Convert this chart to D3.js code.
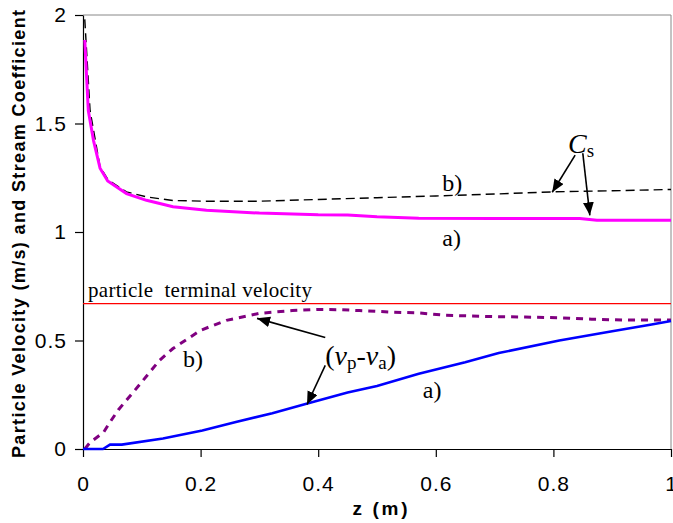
<!doctype html>
<html lang="en">
<head>
<meta charset="UTF-8" />
<title>Particle velocity and stream coefficient</title>
<script src="https://d3js.org/d3.v7.min.js"></script>
<style>
    body, html { margin: 0; padding: 0; background: #fff; }
    svg { display: block; }
    .tick text { font-family: Arial, "Liberation Sans", sans-serif; font-size: 21px; letter-spacing: 1px; fill: #000; }
    .serif { font-family: "Times New Roman", "Liberation Serif", serif; fill: #000; }
</style>
</head>
<body>
<svg id="chart" width="673" height="523"></svg>
<script>
    // data
    const xTicks = [0, 0.2, 0.4, 0.6, 0.8, 1];
    const yTicks = [0, 0.5, 1, 1.5, 2];

    // Cs a) (magenta solid)
    const csA_z = [0.003, 0.009, 0.018, 0.029, 0.042, 0.074, 0.108, 0.153, 0.21, 0.3, 0.4, 0.45, 0.5, 0.571, 0.7, 0.845, 0.874, 1.0];
    const csA_v = [1.885, 1.56, 1.42, 1.294, 1.235, 1.177, 1.146, 1.116, 1.100, 1.087, 1.079, 1.078, 1.07, 1.063, 1.062, 1.062, 1.054, 1.054];

    // Cs b) (black dashed)
    const csB_z = [0.003, 0.012, 0.029, 0.043, 0.074, 0.108, 0.153, 0.21, 0.3, 0.4, 0.5, 0.6, 0.7, 0.8, 0.9, 1.0];
    const csB_v = [1.98, 1.56, 1.30, 1.239, 1.185, 1.162, 1.145, 1.142, 1.142, 1.15, 1.158, 1.166, 1.175, 1.185, 1.19, 1.196];

    // (vp-va) b) (purple dashed)
    const vB_z = [0.003, 0.012, 0.035, 0.046, 0.06, 0.088, 0.13, 0.153, 0.2, 0.244, 0.3, 0.356, 0.4, 0.436, 0.47, 0.525, 0.571, 0.617, 0.7, 0.752, 0.81, 0.865, 0.92, 1.0];
    const vB_v = [0.0, 0.03, 0.077, 0.124, 0.18, 0.27, 0.408, 0.463, 0.547, 0.593, 0.625, 0.638, 0.643, 0.642, 0.638, 0.631, 0.627, 0.616, 0.61, 0.608, 0.605, 0.598, 0.594, 0.595];

    // (vp-va) a) (blue solid)
    const vA_z = [0, 0.034, 0.046, 0.066, 0.136, 0.203, 0.26, 0.322, 0.38, 0.45, 0.5, 0.571, 0.65, 0.707, 0.81, 0.9, 0.967, 1.0];
    const vA_v = [0, 0, 0.02, 0.02, 0.048, 0.085, 0.124, 0.165, 0.208, 0.26, 0.29, 0.347, 0.40, 0.442, 0.50, 0.543, 0.574, 0.59];

    const terminalVelocity = 0.67;

    // annotation arrows [fromZ, fromV, toZ, toV]
    const arrows = [
        [0.837, 1.354, 0.798, 1.183],
        [0.850, 1.363, 0.862, 1.077],
        [0.412, 0.514, 0.296, 0.602],
        [0.412, 0.385, 0.381, 0.205]
    ];

    const svg = d3.select("#chart");
    const margin = { top: 15, right: 2, bottom: 74, left: 83 };
    const width = 673 - margin.left - margin.right;
    const height = 523 - margin.top - margin.bottom;

    const x = d3.scaleLinear().domain([0, 1]).range([margin.left, margin.left + width]);
    const y = d3.scaleLinear().domain([0, 2]).range([margin.top + height, margin.top]);

    // frame (top and right)
    svg.append("path")
        .attr("d", `M${x(0)},${y(2)}H${x(1)}V${y(0)}`)
        .attr("fill", "none")
        .attr("stroke", "#888")
        .attr("stroke-width", 1);

    const fmt = d => String(d);

    const gx = svg.append("g")
        .attr("transform", `translate(0,${y(0)})`)
        .call(d3.axisBottom(x).tickValues(xTicks).tickFormat(fmt).tickSize(8).tickPadding(19).tickSizeOuter(0));
    const gy = svg.append("g")
        .attr("transform", `translate(${x(0)},0)`)
        .call(d3.axisLeft(y).tickValues(yTicks).tickFormat(fmt).tickSize(8).tickPadding(8).tickSizeOuter(0));
    [gx, gy].forEach(g => {
        g.select(".domain").attr("stroke", "#000").attr("stroke-width", 1.2);
        g.selectAll(".tick line").attr("stroke", "#000").attr("stroke-width", 1.2);
    });

    // axis titles
    svg.append("text")
        .attr("x", 380).attr("y", 515)
        .attr("text-anchor", "middle")
        .attr("font-family", "Arial, 'Liberation Sans', sans-serif")
        .attr("font-weight", "bold")
        .attr("font-size", 19)
        .attr("textLength", 55)
        .attr("lengthAdjust", "spacing")
        .text("z (m)");
    svg.append("text")
        .attr("transform", "translate(25,234) rotate(-90)")
        .attr("text-anchor", "middle")
        .attr("font-family", "Arial, 'Liberation Sans', sans-serif")
        .attr("font-weight", "bold")
        .attr("font-size", 18)
        .attr("textLength", 448)
        .attr("lengthAdjust", "spacing")
        .text("Particle Velocity (m/s) and Stream Coefficient");

    // terminal velocity line
    svg.append("line")
        .attr("x1", x(0)).attr("x2", x(1))
        .attr("y1", y(terminalVelocity)).attr("y2", y(terminalVelocity))
        .attr("stroke", "#ff0000").attr("stroke-width", 1.2);
    svg.append("text")
        .attr("class", "serif")
        .attr("x", x(0.0085)).attr("y", y(0.699))
        .attr("font-size", 21)
        .attr("textLength", 224)
        .attr("lengthAdjust", "spacing")
        .attr("xml:space", "preserve")
        .text("particle  terminal velocity");

    const line = d3.line().x(d => x(d[0])).y(d => y(d[1]));
    const pairs = (zs, vs) => zs.map((z, i) => [z, vs[i]]);

    svg.append("path").datum(pairs(csB_z, csB_v))
        .attr("d", line).attr("fill", "none")
        .attr("stroke", "#000").attr("stroke-width", 1.4)
        .attr("stroke-dasharray", "9,5");
    svg.append("path").datum(pairs(csA_z, csA_v))
        .attr("d", line).attr("fill", "none")
        .attr("stroke", "#ff00ff").attr("stroke-width", 3);
    svg.append("path").datum(pairs(vB_z, vB_v))
        .attr("d", line).attr("fill", "none")
        .attr("stroke", "#800080").attr("stroke-width", 3)
        .attr("stroke-dasharray", "7,6");
    svg.append("path").datum(pairs(vA_z, vA_v))
        .attr("d", line).attr("fill", "none")
        .attr("stroke", "#0000ff").attr("stroke-width", 2.6);

    // arrows
    svg.append("defs").append("marker")
        .attr("id", "head")
        .attr("viewBox", "0 0 12 10")
        .attr("refX", 12).attr("refY", 5)
        .attr("markerWidth", 13).attr("markerHeight", 11)
        .attr("markerUnits", "userSpaceOnUse")
        .attr("orient", "auto")
        .append("path").attr("d", "M0,0L12,5L0,10Z").attr("fill", "#000");
    svg.selectAll(".arrow").data(arrows).join("line")
        .attr("class", "arrow")
        .attr("x1", d => x(d[0])).attr("y1", d => y(d[1]))
        .attr("x2", d => x(d[2])).attr("y2", d => y(d[3]))
        .attr("stroke", "#000").attr("stroke-width", 1.6)
        .attr("marker-end", "url(#head)");

    // labels
    const cs = svg.append("text").attr("class", "serif")
        .attr("x", x(0.825)).attr("y", y(1.363));
    cs.append("tspan").attr("font-size", 28).attr("font-style", "italic").text("C");
    cs.append("tspan").attr("font-size", 19).attr("dy", 4).text("s");

    const vp = svg.append("text").attr("class", "serif")
        .attr("x", x(0.412)).attr("y", y(0.385)).attr("font-size", 28);
    vp.append("tspan").text("(");
    vp.append("tspan").attr("font-style", "italic").text("v");
    vp.append("tspan").attr("font-size", 19).attr("dy", 4).text("p");
    vp.append("tspan").attr("dy", -4).text("-");
    vp.append("tspan").attr("font-style", "italic").text("v");
    vp.append("tspan").attr("font-size", 19).attr("dy", 4).text("a");
    vp.append("tspan").attr("dy", -4).text(")");

    const caseLabels = [
        ["b)", 0.611, 1.188],
        ["a)", 0.611, 0.934],
        ["b)", 0.17, 0.376],
        ["a)", 0.578, 0.233]
    ];
    svg.selectAll(".case").data(caseLabels).join("text")
        .attr("class", "case serif")
        .attr("x", d => x(d[1])).attr("y", d => y(d[2]))
        .attr("font-size", 24)
        .text(d => d[0]);
</script>
</body>
</html>
